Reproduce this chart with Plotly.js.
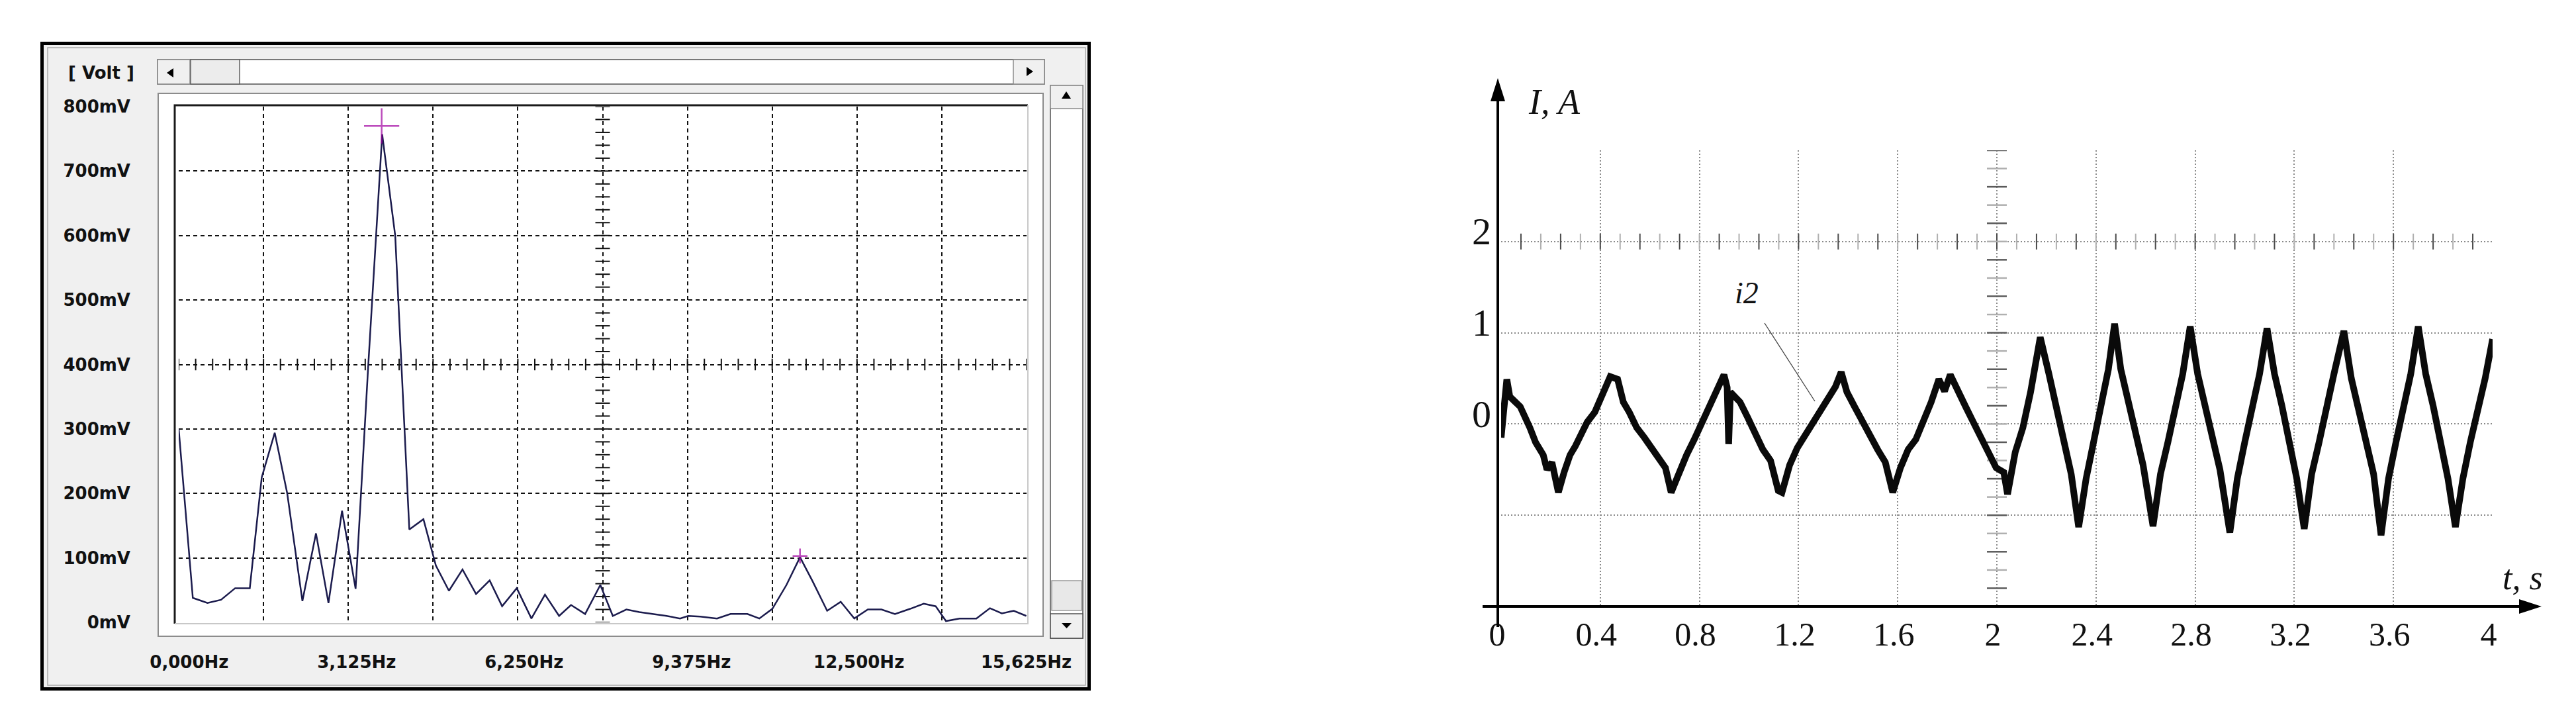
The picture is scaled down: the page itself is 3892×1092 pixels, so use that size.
<!DOCTYPE html>
<html><head><meta charset="utf-8">
<script src="https://cdn.plot.ly/plotly-3.0.1.min.js"></script>
<style>html,body{margin:0;padding:0;background:#fff;}#chart{width:3892px;height:1092px;}</style>
</head><body><div id="chart"></div>
<script>
// ---------------- data ----------------
const spectrumFreqHz = [0, 0.26, 0.53, 0.78, 1.04, 1.31, 1.53, 1.77, 2.0, 2.28,
  2.53, 2.76, 3.01, 3.26, 3.49, 3.75, 3.99, 4.25, 4.51, 4.74,
  4.98, 5.23, 5.48, 5.73, 5.96, 6.23, 6.50, 6.75, 7.01, 7.23,
  7.49, 7.77, 8.0, 8.25, 8.49, 8.74, 8.99, 9.24, 9.39, 9.61,
  9.92, 10.17, 10.48, 10.7, 10.94, 11.2, 11.45, 11.68, 11.95, 12.2,
  12.45, 12.7, 12.95, 13.2, 13.48, 13.73, 13.95, 14.14, 14.39, 14.7,
  14.95, 15.17, 15.39, 15.62];
const spectrumVoltMV = [300, 38, 30, 35, 53, 53, 225, 294, 200, 33,
  138, 30, 173, 52, 394, 757, 600, 144, 160, 88,
  49, 82, 44, 65, 25, 53, 6, 43, 10, 27,
  13, 58, 10, 20, 16, 13, 10, 6, 10, 9,
  6, 13, 13, 6, 21, 58, 101, 64, 18, 32,
  6, 20, 20, 13, 21, 29, 25, 2, 6, 6,
  22, 14, 18, 10];
const peakMarkerFreqHz = [3.74, 11.45];
const peakMarkerVoltMV = [770, 103];
const freqTickVals = [0, 3.125, 6.25, 9.375, 12.5, 15.625];
const freqTickText = ['0,000Hz', '3,125Hz', '6,250Hz', '9,375Hz', '12,500Hz', '15,625Hz'];
const voltTickVals = [0, 100, 200, 300, 400, 500, 600, 700, 800];
const voltTickText = ['0mV', '100mV', '200mV', '300mV', '400mV', '500mV', '600mV', '700mV', '800mV'];

const timeS = [0, 0.023, 0.035, 0.077, 0.116, 0.139, 0.17, 0.185, 0.205, 0.224, 0.231,
  0.254, 0.278, 0.30, 0.324, 0.347, 0.378, 0.40, 0.424, 0.44, 0.47,
  0.493, 0.517, 0.547, 0.578, 0.609, 0.64, 0.663, 0.686,
  0.717, 0.748, 0.779, 0.81, 0.833, 0.856, 0.879, 0.899, 0.912, 0.918, 0.925,
  0.964, 0.995, 1.025, 1.056, 1.087, 1.118, 1.133,
  1.164, 1.195, 1.226, 1.257, 1.288, 1.318, 1.349, 1.372,
  1.395, 1.426, 1.457, 1.488, 1.519, 1.55, 1.58,
  1.611, 1.642, 1.673, 1.704, 1.735, 1.766, 1.789, 1.812,
  1.843, 1.874, 1.905, 1.936, 1.966, 1.997, 2.028, 2.043,
  2.074, 2.105, 2.136, 2.175,
  2.21, 2.24, 2.27, 2.30, 2.33,
  2.36, 2.39, 2.42, 2.45, 2.475,
  2.50, 2.53, 2.56, 2.59, 2.63,
  2.66, 2.69, 2.72, 2.75, 2.78,
  2.81, 2.84, 2.87, 2.90, 2.94,
  2.97, 3.00, 3.03, 3.06, 3.09,
  3.12, 3.15, 3.18, 3.21, 3.24,
  3.27, 3.30, 3.33, 3.36, 3.40,
  3.43, 3.46, 3.49, 3.52, 3.55,
  3.58, 3.61, 3.64, 3.67, 3.70,
  3.73, 3.76, 3.79, 3.82, 3.85,
  3.88, 3.91, 3.94, 3.97, 4.0];
const currentA = [-0.15, 0.49, 0.30, 0.19, -0.04, -0.2, -0.34, -0.50, -0.42, -0.70, -0.75,
  -0.53, -0.34, -0.24, -0.09, 0.02, 0.13, 0.27, 0.43, 0.52, 0.49,
  0.24, 0.13, -0.04, -0.15, -0.26, -0.37, -0.48, -0.75,
  -0.53, -0.34, -0.17, 0.02, 0.16, 0.30, 0.41, 0.54, 0.40, -0.22, 0.35,
  0.24, 0.07, -0.12, -0.28, -0.40, -0.73, -0.75,
  -0.45, -0.26, -0.12, 0.02, 0.16, 0.30, 0.41, 0.57,
  0.35, 0.19, 0.02, -0.12, -0.28, -0.42, -0.75,
  -0.48, -0.28, -0.17, 0.02, 0.24, 0.49, 0.36, 0.54,
  0.35, 0.19, 0.02, -0.15, -0.28, -0.48, -0.53, -0.77,
  -0.31, -0.04, 0.35, 0.95,
  0.55, 0.2, -0.15, -0.55, -1.13,
  -0.6, -0.2, 0.2, 0.6, 1.1,
  0.6, 0.25, -0.1, -0.45, -1.12,
  -0.55, -0.2, 0.2, 0.55, 1.07,
  0.55, 0.2, -0.15, -0.5, -1.19,
  -0.6, -0.2, 0.2, 0.55, 1.05,
  0.55, 0.2, -0.2, -0.6, -1.15,
  -0.55, -0.2, 0.2, 0.55, 1.02,
  0.5, 0.15, -0.2, -0.55, -1.22,
  -0.6, -0.2, 0.2, 0.55, 1.07,
  0.55, 0.2, -0.2, -0.6, -1.13,
  -0.6, -0.2, 0.15, 0.5, 0.93];
const timeTickVals = [0, 0.4, 0.8, 1.2, 1.6, 2, 2.4, 2.8, 3.2, 3.6, 4];
const timeTickText = ['0', '0.4', '0.8', '1.2', '1.6', '2', '2.4', '2.8', '3.2', '3.6', '4'];
const currentTickVals = [-2, -1, 0, 1, 2, 3];
const currentTickText = ['', '', '0', '1', '2', ''];

// ---------------- helpers (page pixels -> paper) ----------------
const W = 3892, H = 1092;
const X = p => p / W;
const Y = p => 1 - p / H;
const shapes = [];
function rectPx(x0, y0, x1, y1, fill, lc, lw, layer) {
  shapes.push({type: 'rect', xref: 'paper', yref: 'paper', x0: X(x0), x1: X(x1), y0: Y(y1), y1: Y(y0),
    fillcolor: fill, line: {color: lc, width: lw}, layer: layer || 'below'});
}
function pathPx(pts, close, fill, lc, lw, layer) {
  const d = pts.map((p, i) => (i ? 'L' : 'M') + X(p[0]).toFixed(6) + ',' + Y(p[1]).toFixed(6)).join(' ') + (close ? ' Z' : '');
  shapes.push({type: 'path', xref: 'paper', yref: 'paper', path: d,
    fillcolor: fill || 'rgba(0,0,0,0)', line: {color: lc || 'rgba(0,0,0,0)', width: lw || 0}, layer: layer || 'below'});
}

// ---------------- left window chrome ----------------
rectPx(63.5, 65.5, 1645.5, 1040.5, '#f0f0f0', '#000', 5);
rectPx(72, 72, 1640, 1035, 'rgba(0,0,0,0)', '#a8a8a8', 1.5);
// horizontal scrollbar
rectPx(238, 90, 1578, 127, '#ffffff', '#505050', 1.5);
rectPx(238, 90, 287, 127, '#f0f0f0', '#8a8a8a', 1.5);
rectPx(288, 90, 362, 127, '#ececec', '#606060', 1.5);
rectPx(1531, 90, 1578, 127, '#f0f0f0', '#8a8a8a', 1.5);
pathPx([[252, 110], [262, 103], [262, 117]], true, '#000');
pathPx([[1561, 108], [1551, 101], [1551, 115]], true, '#000');
// plot panel
rectPx(239, 141, 1576, 961, '#ffffff', '#8c8c8c', 2);
pathPx([[264, 942], [264, 159], [1553, 159]], false, null, '#1a1a1a', 3);
pathPx([[1553, 159], [1553, 942], [264, 942]], false, null, '#c8c8c8', 2);
// vertical scrollbar
rectPx(1587, 129, 1636, 964, '#ffffff', '#505050', 1.5);
rectPx(1587, 129, 1636, 164, '#f0f0f0', '#8a8a8a', 1.5);
rectPx(1589, 877, 1634, 922, '#e8e8e8', '#9a9a9a', 1.5);
rectPx(1587, 927, 1636, 964, '#f0f0f0', '#505050', 1.5);
pathPx([[1611, 138], [1604, 149], [1618, 149]], true, '#000');
pathPx([[1604, 941], [1619, 941], [1611.5, 949]], true, '#000');

// oscilloscope graticule ticks (decoration)
for (let i = 0; i <= 50; i++) {
  const f = i * 0.3125;
  shapes.push({type: 'line', xref: 'x', yref: 'y', x0: f, x1: f, y0: 391, y1: 409,
    line: {color: '#111', width: 2}, layer: 'between'});
}
for (let i = 0; i <= 40; i++) {
  const v = i * 20;
  shapes.push({type: 'line', xref: 'x', yref: 'y', x0: 7.8125 - 0.134, x1: 7.8125 + 0.134, y0: v, y1: v,
    line: {color: '#111', width: 2}, layer: 'between'});
}

// ---------------- right chart decorations ----------------
for (let i = 1; i < 50; i++) {
  const t = i * 0.08;
  shapes.push({type: 'line', xref: 'x2', yref: 'y2', x0: t, x1: t, y0: 2 - 0.087, y1: 2 + 0.087,
    line: {color: i % 2 ? '#4a4a4a' : '#b0b0b0', width: 2}, layer: 'between'});
}
for (let i = -9; i <= 15; i++) {
  const v = i * 0.2;
  shapes.push({type: 'line', xref: 'x2', yref: 'y2', x0: 2 - 0.04, x1: 2 + 0.04, y0: v, y1: v,
    line: {color: i % 2 ? '#5a5a5a' : '#b0b0b0', width: 2.5}, layer: 'between'});
}
// axes with arrows
pathPx([[2263, 947], [2263, 140]], false, null, '#000', 4, 'above');
pathPx([[2263, 118], [2252, 153], [2274, 153]], true, '#000', null, 0, 'above');
pathPx([[2240, 916], [3812, 916]], false, null, '#000', 4, 'above');
pathPx([[3840, 916], [3806, 905], [3806, 927]], true, '#000', null, 0, 'above');
// leader line of the i2 label
pathPx([[2666, 488], [2742, 606]], false, null, '#444', 1.3, 'above');

// ---------------- traces ----------------
const traces = [
  {type: 'scatter', mode: 'lines', x: spectrumFreqHz, y: spectrumVoltMV, xaxis: 'x', yaxis: 'y',
    line: {color: '#1b1b4d', width: 2.5}, hoverinfo: 'skip'},
  {type: 'scatter', mode: 'markers', x: peakMarkerFreqHz, y: peakMarkerVoltMV, xaxis: 'x', yaxis: 'y',
    marker: {symbol: 'cross-thin', size: [38, 16], color: '#a000a0', line: {color: '#a000a0', width: 2.5}}, hoverinfo: 'skip'},
  {type: 'scatter', mode: 'lines', x: [], y: [], xaxis: 'x3', yaxis: 'y', hoverinfo: 'skip'},
  {type: 'scatter', mode: 'lines', x: timeS, y: currentA, xaxis: 'x2', yaxis: 'y2',
    line: {color: '#0a0a0a', width: 10}, hoverinfo: 'skip'}
];

const leftFont = {family: 'DejaVu Sans', size: 26, color: '#111', weight: 'bold'};
const serif = 'Liberation Serif';

const layout = {
  width: W, height: H, autosize: false,
  margin: {l: 0, r: 0, t: 0, b: 0, pad: 0},
  paper_bgcolor: '#ffffff', plot_bgcolor: 'rgba(0,0,0,0)',
  showlegend: false,
  font: {family: 'DejaVu Sans'},
  xaxis: {domain: [X(270), X(1551)], range: [0, 15.625], anchor: 'y', tick0: 0, dtick: 1.5625,
    showticklabels: false, ticks: '', showgrid: true, gridcolor: '#111', gridwidth: 2, griddash: '6px,5px',
    zeroline: false, showline: false, fixedrange: true},
  yaxis: {domain: [Y(940), Y(161)], range: [0, 800], anchor: 'x', tickvals: voltTickVals, ticktext: voltTickText,
    tickfont: leftFont, ticks: '', ticklabelstandoff: 72, showgrid: true, gridcolor: '#111', gridwidth: 2,
    griddash: '6px,5px', zeroline: false, showline: false, fixedrange: true},
  xaxis3: {overlaying: 'x', anchor: 'free', position: Y(982), range: [-0.196, 15.63],
    tickvals: freqTickVals, ticktext: freqTickText, tickfont: leftFont, ticks: '',
    showgrid: false, zeroline: false, showline: false, fixedrange: true},
  xaxis2: {domain: [X(2268), X(3766)], range: [0, 4], anchor: 'y2', tickvals: timeTickVals, ticktext: timeTickText,
    tickfont: {family: serif, size: 50, color: '#111'}, ticks: '', ticklabelstandoff: 8, ticklabelshift: -6,
    showgrid: true, gridcolor: '#8a8a8a', gridwidth: 2, griddash: '2px,3px', zeroline: false, showline: false, fixedrange: true},
  yaxis2: {domain: [Y(916), Y(227)], range: [-2, 3], anchor: 'x2', tickvals: currentTickVals, ticktext: currentTickText,
    tickfont: {family: serif, size: 58, color: '#111'}, ticks: '', ticklabelstandoff: 14, ticklabelshift: -16,
    showgrid: true, gridcolor: '#8a8a8a', gridwidth: 2, griddash: '2px,3px', zeroline: false, showline: false, fixedrange: true},
  shapes: shapes,
  annotations: [
    {xref: 'paper', yref: 'paper', x: X(153), y: Y(110), text: '[ Volt ]', showarrow: false,
      xanchor: 'center', yanchor: 'middle', font: leftFont},
    {xref: 'paper', yref: 'paper', x: X(2348), y: Y(154), text: '<i>I, A</i>', showarrow: false,
      xanchor: 'center', yanchor: 'middle', font: {family: serif, size: 54, color: '#111'}},
    {xref: 'paper', yref: 'paper', x: X(3811), y: Y(872), text: '<i>t, s</i>', showarrow: false,
      xanchor: 'center', yanchor: 'middle', font: {family: serif, size: 52, color: '#111'}},
    {xref: 'paper', yref: 'paper', x: X(2639), y: Y(442), text: '<i>i2</i>', showarrow: false,
      xanchor: 'center', yanchor: 'middle', font: {family: serif, size: 46, color: '#111'}}
  ]
};

Plotly.newPlot('chart', traces, layout, {staticPlot: true, displayModeBar: false});
</script>
</body></html>
